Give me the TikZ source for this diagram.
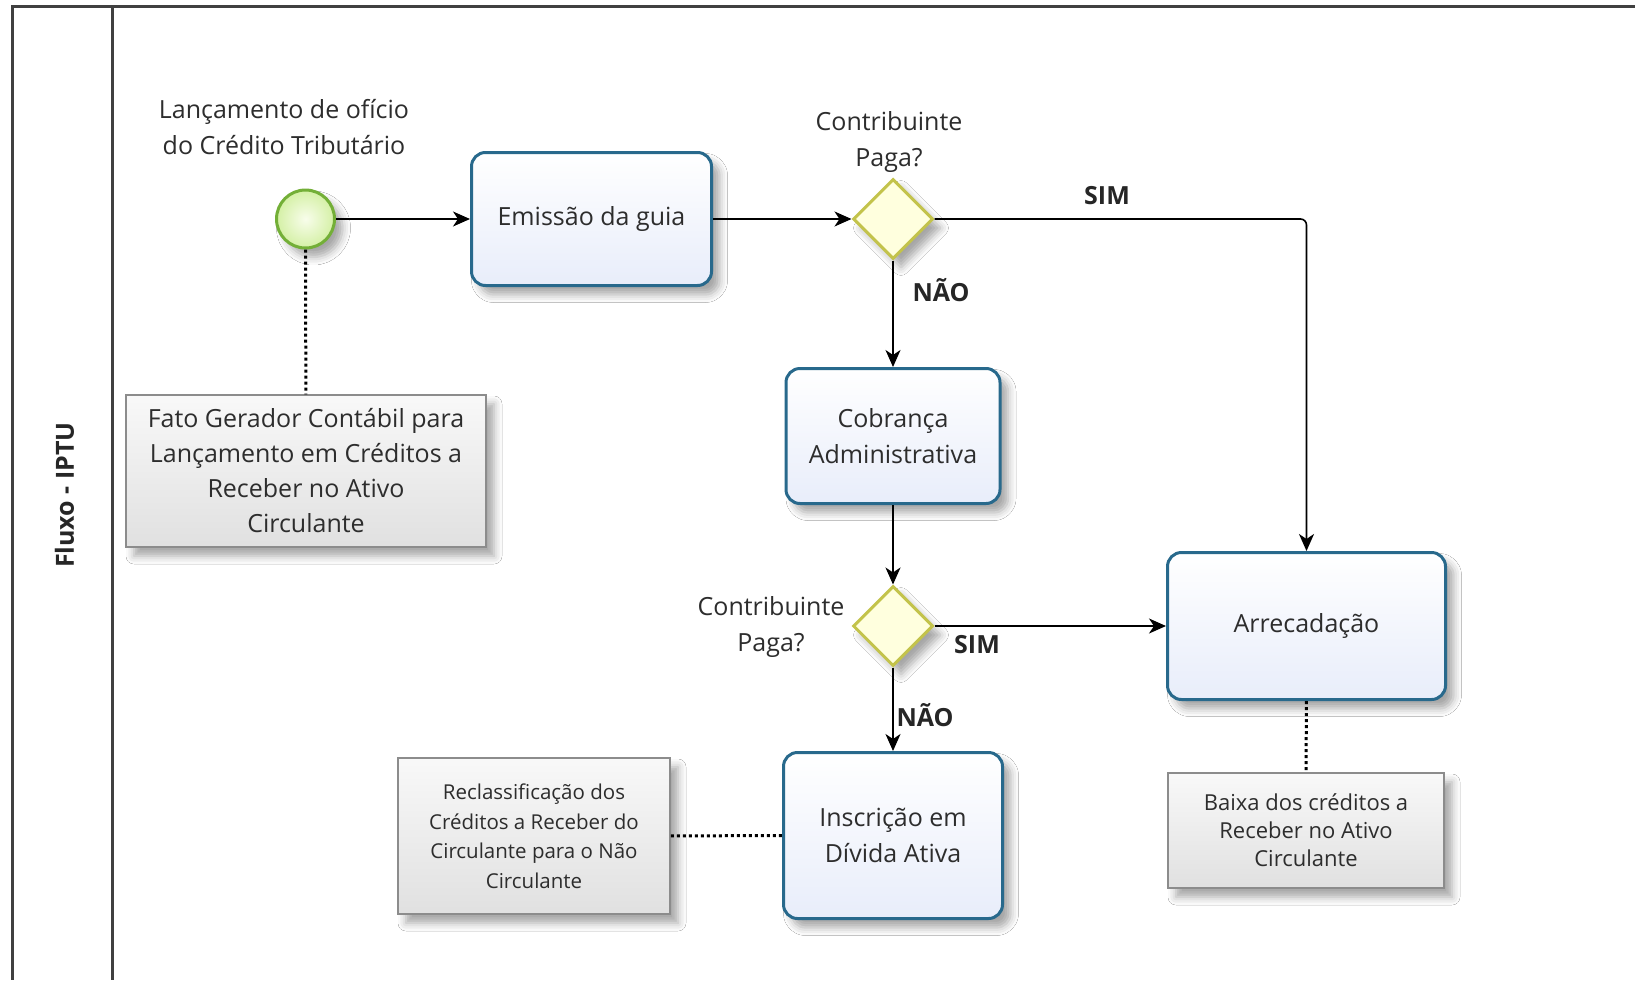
\documentclass[tikz,border=0pt]{standalone}
\usepackage{fontspec}
\setmainfont{Open Sans}
\usetikzlibrary{shapes.geometric,arrows.meta,shadows.blur}

\definecolor{taskline}{RGB}{40,105,140}
\definecolor{taskfill}{RGB}{232,237,250}
\definecolor{startline}{RGB}{115,175,55}
\definecolor{startin}{RGB}{248,253,235}
\definecolor{startout}{RGB}{212,240,165}
\definecolor{gateline}{RGB}{195,195,75}
\definecolor{gatefill}{RGB}{255,255,222}
\definecolor{noteline}{RGB}{140,140,140}
\definecolor{textgray}{RGB}{45,45,45}

\begin{document}
\begin{tikzpicture}[x=1pt,y=-1pt,
  softshadow/.style={blur shadow={shadow xshift=8pt,shadow yshift=-9pt,shadow blur radius=8pt,shadow opacity=35}},
  task/.style={rectangle,rounded corners=14pt,draw=taskline,line width=3pt,
    top color=white,bottom color=taskfill,softshadow,align=center,
    text=textgray,font=\fontsize{25}{36}\selectfont,inner sep=0pt},
  startev/.style={circle,draw=startline,line width=3pt,inner color=startin,
    outer color=startout,minimum size=58pt,inner sep=0pt,softshadow},
  gate/.style={diamond,draw=gateline,line width=3pt,fill=gatefill,
    minimum width=80pt,minimum height=80pt,inner sep=0pt,softshadow},
  note/.style={rectangle,draw=noteline,line width=1.5pt,top color=gray!5,
    bottom color=gray!24,softshadow,align=center,text=textgray,inner sep=0pt},
  lbl/.style={align=center,text=textgray,font=\fontsize{25}{36}\selectfont},
  cond/.style={font=\fontsize{25}{28}\selectfont\bfseries,text=black!85},
  flow/.style={draw=black,line width=1.6pt,-{Stealth[length=17pt,width=15pt,inset=5pt]}},
  assoc/.style={draw=black,line width=3pt,dash pattern=on 3pt off 3pt},
  lane/.style={draw=black!75,line width=2.5pt}]

% canvas
\useasboundingbox (0,0) rectangle (1635,980);
\fill[white] (0,0) rectangle (1635,980);

% pool and lane frame
\draw[lane] (1635,6.5) -- (12.5,6.5) -- (12.5,980);
\draw[lane] (112.5,6.5) -- (112.5,980);
\node[rotate=90,font=\fontsize{25}{28}\selectfont\bfseries,text=black!85] (lanelbl) at (64.5,495) {Fluxo - IPTU};

% start event
\node[startev] (start) at (305.5,219) {};
\node[lbl] (startlbl) at (284,127) {Lançamento de ofício\\do Crédito Tributário};

% tasks
\node[task,minimum width=240pt,minimum height=133pt] (emissao) at (591.5,219) {Emissão da guia};
\node[task,minimum width=214pt,minimum height=135pt] (cobranca) at (893,436) {Cobrança\\Administrativa};
\node[task,minimum width=278pt,minimum height=147pt] (arrec) at (1306.5,626) {Arrecadação};
\node[task,minimum width=219pt,minimum height=166pt] (inscricao) at (893,835.5) {Inscrição em\\Dívida Ativa};

% gateways
\node[gate] (g1) at (893,219) {};
\node[lbl] (g1lbl) at (889,142) {Contribuinte\\Paga?};
\node[gate] (g2) at (893,626) {};
\node[lbl] (g2lbl) at (771,626.5) {Contribuinte\\Paga?};

% annotations
\node[note,minimum width=360pt,minimum height=152pt,font=\fontsize{25}{35}\selectfont] (fato) at (306,471)
  {Fato Gerador Contábil para\\Lançamento em Créditos a\\Receber no Ativo\\Circulante};
\node[note,minimum width=272pt,minimum height=156pt,font=\fontsize{20.5}{29.5}\selectfont] (reclass) at (534,836)
  {Reclassificação dos\\Créditos a Receber do\\Circulante para o Não\\Circulante};
\node[note,minimum width=276pt,minimum height=115pt,font=\fontsize{22}{28}\selectfont] (baixa) at (1306,830.5)
  {Baixa dos créditos a\\Receber no Ativo\\Circulante};

% sequence flows
\draw[flow] (start) -- (emissao);
\draw[flow] (emissao) -- (g1);
\draw[flow,rounded corners=6pt] (g1.east) -| (arrec.north);
\draw[flow] (g1) -- (cobranca);
\draw[flow] (cobranca) -- (g2);
\draw[flow] (g2) -- (arrec);
\draw[flow] (g2) -- (inscricao);

% condition labels
\node[cond] (sim1) at (1107,196) {SIM};
\node[cond] (nao1) at (941,290) {NÃO};
\node[cond] (sim2) at (977,645) {SIM};
\node[cond] (nao2) at (925,715) {NÃO};

% associations
\draw[assoc] (start) -- (fato);
\draw[assoc] (reclass) -- (inscricao);
\draw[assoc] (arrec) -- (baixa);
\end{tikzpicture}
\end{document}
